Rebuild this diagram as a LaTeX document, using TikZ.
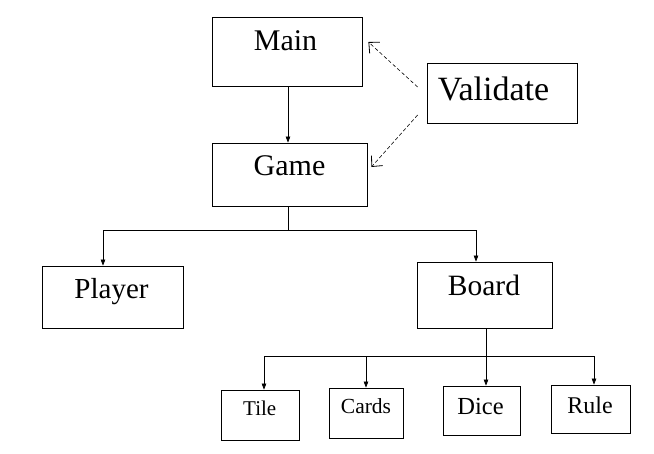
\documentclass[tikz,border=0pt]{standalone}
\usepackage{fontspec}
\setmainfont{Liberation Serif}
\usetikzlibrary{arrows.meta}
\begin{document}
\begin{tikzpicture}[x=1pt,y=-1pt,
  box/.style={draw=black, line width=0.8pt, inner sep=0pt, rectangle},
  lbl/.style={anchor=base, inner sep=0pt},
  conn/.style={line width=0.7pt},
  arr/.style={conn, -{Triangle[length=6pt,width=4.5pt]}},
  dasharr/.style={line width=0.6pt, dash pattern=on 3.5pt off 2.5pt, -{Straight Barb[length=8pt,width=15pt,line width=0.8pt]}}]
\useasboundingbox (0,0) rectangle (654,453);
\fill[white] (0,0) rectangle (654,453);
% boxes
\node[box, minimum width=150pt, minimum height=69pt] (main) at (287,51.5) {};
\node[box, minimum width=150pt, minimum height=60pt] (validate) at (502,93) {};
\node[box, minimum width=155pt, minimum height=63pt] (game) at (289.5,174.5) {};
\node[box, minimum width=141pt, minimum height=62pt] (player) at (112.5,297) {};
\node[box, minimum width=135pt, minimum height=66pt] (board) at (484.5,295) {};
\node[box, minimum width=78pt, minimum height=50pt] (tile) at (260,415) {};
\node[box, minimum width=74pt, minimum height=50pt] (cards) at (366,413) {};
\node[box, minimum width=77pt, minimum height=49pt] (dice) at (481.5,410.5) {};
\node[box, minimum width=79pt, minimum height=48pt] (rule) at (590.5,409) {};
% texts
\node[lbl, font=\fontsize{30}{36}\selectfont] (mainT) at (285.5,50) {Main};
\node[lbl, font=\fontsize{34}{40}\selectfont] (validateT) at (493.5,100) {Validate};
\node[lbl, font=\fontsize{30}{36}\selectfont] (gameT) at (289.5,175) {Game};
\node[lbl, font=\fontsize{29}{35}\selectfont] (playerT) at (111.5,298) {Player};
\node[lbl, font=\fontsize{29.5}{35}\selectfont] (boardT) at (484,295) {Board};
\node[lbl, font=\fontsize{21}{25}\selectfont] (tileT) at (259.7,415) {Tile};
\node[lbl, font=\fontsize{21.5}{26}\selectfont] (cardsT) at (366,413) {Cards};
\node[lbl, font=\fontsize{24.5}{29}\selectfont] (diceT) at (480.5,414) {Dice};
\node[lbl, font=\fontsize{24}{29}\selectfont] (ruleT) at (590,413) {Rule};
% main -> game
\draw[arr] (main.south -| 288,0) -- (game.north -| 288,0);
% game tree
\coordinate (j1) at (288,230);
\coordinate (pj) at (103,230);
\coordinate (bj) at (476,230);
\draw[conn] (game.south -| j1) -- (j1);
\draw[conn] (pj) -- (bj);
\draw[arr] (pj) -- (pj |- player.north);
\draw[arr] (bj) -- (bj |- board.north);
% board tree
\coordinate (j2) at (486,356);
\coordinate (tj) at (264,356);
\coordinate (cj) at (366,356);
\coordinate (rj) at (594,356);
\draw[conn] (board.south -| j2) -- (j2);
\draw[conn] (tj) -- (rj);
\draw[arr] (tj) -- (tj |- tile.north);
\draw[arr] (cj) -- (cj |- cards.north);
\draw[arr] (j2) -- (j2 |- dice.north);
\draw[arr] (rj) -- (rj |- rule.north);
% validate dashed
\draw[dasharr] ([xshift=-9pt,yshift=6pt]validate.west) -- ([xshift=6pt,yshift=9.5pt]main.east);
\draw[dasharr] ([xshift=-9pt,yshift=-22pt]validate.west) -- ([xshift=4pt,yshift=7.5pt]game.east);
\end{tikzpicture}
\end{document}
